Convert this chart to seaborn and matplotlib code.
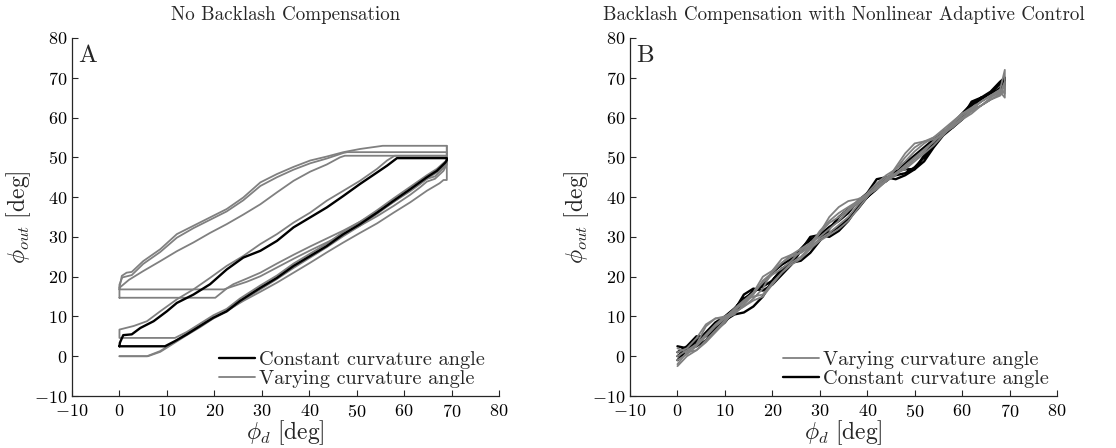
import numpy as np
import pandas as pd
import matplotlib
matplotlib.use("Agg")
import matplotlib.pyplot as plt
from matplotlib.lines import Line2D
import seaborn as sns

# ---------------- Panel A data (No Backlash Compensation) ----------------
const_x = [0, 9.6, 11.7, 14.2, 17, 19.8, 22.6, 25.4, 29.7, 33.2, 36.7, 40.2, 43.7, 47.2, 50.7,
           54.3, 57.8, 61.3, 64.8, 66.9, 68.7, 69, 69, 58.5, 56.4, 54.3, 50.7, 47.2, 43.7, 40.2,
           36.7, 33.2, 29.7, 26.1, 22.6, 19.1, 15.6, 12.1, 10, 7.2, 4.4, 2.6, 0.8, 0.1, 0]
const_y = [2.5, 2.5, 3.8, 5.5, 7.6, 9.7, 11.3, 13.9, 17.2, 19.7, 22.7, 25.2, 27.7, 30.7, 33.2,
           36.1, 39.1, 42, 45, 46.6, 48.7, 49.3, 49.8, 49.8, 47.9, 46.2, 43.3, 40.3, 37.4, 34.9,
           32.4, 29, 26.5, 24.8, 21.8, 18.1, 15.5, 13.4, 11.3, 8.8, 7.1, 5.5, 5.3, 3.4, 2.5]

# varying curvature angle: loop 1 (flat at 14.7, upper band middle line)
var1_x = [0, 20.2, 22.8, 24, 26.8, 29.7, 33.2, 36.7, 40.2, 43.7, 47.2, 50.7, 54.3, 57.8, 61.3,
          63.4, 64.8, 66.5, 68.3, 69, 69, 48, 47.2, 43.7, 40.2, 36.7, 33.2, 29.7, 26.1, 22.6,
          19.1, 15.6, 12.1, 8.6, 5, 2.6, 0.6, 0, 0]
var1_y = [14.7, 14.7, 17.2, 18.1, 19.5, 21, 23.3, 25.5, 27.6, 29.6, 31.6, 33.8, 36.2, 38.8, 41.5,
          43.3, 44.6, 45.2, 47.3, 48.8, 51.3, 51.3, 51.1, 49.7, 48.5, 46.9, 45, 42.8, 39.2, 36.4,
          34.3, 32.2, 29.8, 26.2, 23.2, 20.4, 19.8, 18, 14.7]
# loop 2 (flat at 16.8, top flat at 52.9, upper band top line)
var2_x = [0, 22, 24, 26.8, 29.7, 33.2, 36.7, 40.2, 43.7, 47.2, 50.7, 54.3, 57.8, 61.3, 63.4,
          64.8, 66.5, 68.3, 69, 69, 55.5, 54.3, 50.7, 47.2, 43.7, 40.2, 36.7, 33.2, 29.7, 26.1,
          22.6, 19.1, 15.6, 12.1, 8.6, 5, 2.6, 1.5, 0.5, 0, 0]
var2_y = [16.8, 16.8, 17.6, 18.7, 20.1, 22.3, 24.5, 26.6, 28.6, 30.6, 32.8, 35.2, 37.8, 40.6, 42.5,
          43.9, 44.6, 46.6, 48.2, 52.9, 52.9, 52.7, 52.1, 51.3, 50.2, 49.2, 47.6, 45.8, 43.7, 39.9,
          37, 34.9, 32.8, 30.7, 26.9, 23.9, 21.2, 21, 20.2, 17.2, 16.8]
# loop 3 (flat at 0, just below the black lower branch, upper band lower line)
var3_x = [0, 6, 8.6, 11.4, 14.2, 17, 19.8, 22.6, 25.4, 29.7, 33.2, 36.7, 40.2, 43.7, 47.2, 50.7,
          54.3, 57.8, 61.3, 64.8, 67, 68.7, 69, 69, 47.5, 46.5, 43.7, 40.2, 36.7, 33.2, 29.7, 26.1,
          22.6, 19.1, 15.6, 12.1, 8.6, 5, 2, 0]
var3_y = [0, 0, 1.1, 3.2, 5.3, 7.3, 9.5, 11.2, 13.6, 16.8, 19.4, 22.2, 24.8, 27.4, 30.2, 32.8,
          35.8, 38.8, 41.8, 44.6, 46.3, 48.2, 49, 50.4, 50.4, 50, 48.2, 46.4, 44.1, 41.2, 38.2, 35.6,
          33.2, 31, 28.6, 26.4, 23.9, 21.4, 19.2, 17.2]
# loop 4 (flat at 4.6, hugging the black curve on both branches)
var4_x = [69, 58, 56.4, 54.3, 50.7, 47.2, 43.7, 40.2, 36.7, 33.2, 29.7, 26.1, 22.6, 19.1, 15.6,
          12.1, 8.6, 5.8, 3, 0, 0, 11.7, 14.2, 17, 19.8, 22.6, 25.4, 29.7, 33.2, 36.7, 40.2, 43.7,
          47.2, 50.7, 54.3, 57.8, 61.3, 64.8, 66.9, 68.7]
var4_y = [50.4, 50.4, 49.2, 47.1, 44.1, 41.6, 39.1, 36.1, 33.6, 30.7, 28.2, 25.2, 22.7, 19.7, 16.8,
          14.3, 11.3, 8.8, 7.6, 6.7, 4.6, 4.6, 6.1, 8.2, 10.3, 11.9, 14.5, 17.8, 20.3, 23.3, 25.8, 28.3,
          31.3, 33.8, 36.7, 39.7, 42.6, 45.5, 47.1, 49]
# lowest branch (diverges below the bundle)
var5_x = [0, 5.8, 8.6, 11.4, 13.5, 16, 19, 22, 24, 26.1, 29.7, 33.2, 36.7, 40.2, 43.7, 47.2,
          50.7, 54.3, 57.8, 61.3, 64.8, 67.5, 68.3, 69, 69]
var5_y = [0, 0, 1.3, 3.4, 5.2, 7, 9, 11, 12.4, 13.9, 16.2, 18.5, 21, 23.5, 26.1, 28.6,
          31, 33.4, 36.1, 38.7, 41.6, 43.5, 44.3, 44.3, 52.9]

# ---------------- Panel B data (with Nonlinear Adaptive Control) ----------------
b_grid = [0, 2, 4, 6, 8, 10, 12, 14, 16, 18, 20, 22, 24, 26, 28, 30, 32, 34, 36, 38, 40, 42, 44,
          46, 48, 50, 52, 54, 56, 58, 60, 62, 64, 66, 68, 69]
b_const_up = [-1, 1.5, 4, 5.5, 7, 9, 11, 14, 16.5, 17.5, 19, 21.5, 24, 27, 29.5, 30, 31, 32.5,
              34.5, 37, 40, 43, 45, 45.5, 46, 47.5, 50, 53, 56, 58.5, 61, 63.5, 64.5, 66, 68.5, 70]
b_const_down = [2.5, 2, 2.5, 4, 6.5, 9, 10.5, 11, 12.5, 15, 19, 22, 23.5, 24, 26, 29, 32, 35,
                37, 38.5, 40, 42, 44.5, 46.5, 47, 47, 49, 52.5, 55.5, 57.5, 59.5, 62, 64.5, 66, 67, 68]
b_const_mid = [0, 2, 3.5, 6, 8.5, 10, 12, 14.5, 16, 18, 21, 23, 24.5, 26.5, 29, 30.5, 32.5, 34,
               36, 39, 41, 43, 44, 46, 48.5, 50.5, 52.5, 54.5, 56, 58, 60.5, 63, 65, 66.5, 69, 70]
b_const_extra = [1, 2.5, 5, 5, 6.5, 8.5, 11.5, 15.5, 17, 16.5, 18, 20.5, 23, 26.5, 30, 30.5, 30,
                 31.5, 34, 37.5, 41, 44.5, 45, 44.5, 45.5, 47, 50.5, 54, 56.5, 57.5, 60, 64, 65,
                 65.5, 67.5, 69.5]
b_var_up1 = [-2, 1, 3, 7.5, 9.5, 9.5, 10.5, 13, 15.5, 19, 21, 23.5, 25, 26, 28, 31.5, 34, 36,
             37.5, 39, 40.5, 42.5, 44.5, 47, 50, 52.5, 54, 55, 56.5, 58.5, 60.5, 62, 64, 65.5, 67, 72]
b_var_down1 = [2, 1, 1.5, 4, 6.5, 9, 11, 12.5, 14, 15, 18, 21, 23.5, 25, 27.5, 29.5, 31, 33,
               35, 38, 40.5, 42.5, 44, 45.5, 47.5, 49.5, 51.5, 54, 56, 58, 59.5, 61, 63, 65, 66.5, 65]
b_var_up2 = [0, 1.5, 3, 5.5, 8, 10, 11.5, 13.5, 16, 18.5, 20.5, 22, 24, 26.5, 28.5, 30, 32, 34,
             36.5, 38.5, 40.5, 42, 44, 46, 48, 50, 52, 54, 56, 57.5, 59.5, 62, 64, 65.5, 66, 68]
b_var_down2 = [-1, 0.5, 2.5, 5, 7.5, 9.5, 12, 14, 16, 20, 21.5, 23.5, 25.5, 27, 28.5, 31, 33.5,
               35, 37, 39, 41, 43.5, 45.5, 47, 49, 51.5, 53.5, 55, 57, 59, 61, 62.5, 64, 65.5, 67, 66]
b_var_up3 = [1, 2, 4.5, 8, 9.5, 10, 11, 12.5, 14.5, 17, 21.5, 24.5, 25.5, 26, 27.5, 31, 35, 37.5,
             39, 39.5, 40.5, 42, 44, 47.5, 51, 53.5, 54, 54.5, 56, 58.5, 61, 62, 63, 64.5, 66, 69]
b_var_down3 = [-2.5, 0, 1.5, 3.5, 6, 8.5, 11.5, 14, 15, 15.5, 18.5, 21, 23, 24.5, 27, 29, 30.5,
               32, 34, 37, 40, 43, 45, 46, 47, 49, 51, 53, 55.5, 58, 60, 61.5, 63, 64.5, 65.5, 67]

labels = ["Constant curvature angle", "Varying curvature angle"]
titles = ["No Backlash Compensation", "Backlash Compensation with Nonlinear Adaptive Control"]
panel_tags = ["A", "B"]
ticks = [-10, 0, 10, 20, 30, 40, 50, 60, 70, 80]

# ---------------- styling ----------------
sns.set_theme(style="ticks")
plt.rcParams["font.family"] = ["cmr10", "DejaVu Serif"]
plt.rcParams["mathtext.fontset"] = "cm"
plt.rcParams["axes.formatter.use_mathtext"] = True
plt.rcParams["axes.unicode_minus"] = True

GRAY = "#808080"
BLACK = "#000000"
LW_G = 1.3
LW_K = 1.7
AX_COL = "#262626"

fig = plt.figure(figsize=(11.16, 4.48), dpi=100)
axA = fig.add_axes([72 / 1116, 52 / 448, 427 / 1116, 358 / 448])
axB = fig.add_axes([630 / 1116, 52 / 448, 427 / 1116, 358 / 448])


def draw(ax, xs, ys, color, lw):
    sns.lineplot(x=xs, y=ys, sort=False, estimator=None, color=color, lw=lw, ax=ax, legend=False)


# Panel A
for xs, ys in [(var1_x, var1_y), (var2_x, var2_y), (var3_x, var3_y), (var4_x, var4_y), (var5_x, var5_y)]:
    draw(axA, xs, ys, GRAY, LW_G)
draw(axA, const_x, const_y, BLACK, LW_K)

# Panel B
loop_x = b_grid + b_grid[::-1]
draw(axB, loop_x, b_const_up + b_const_down[::-1], BLACK, LW_K)
draw(axB, loop_x, b_const_mid + b_const_extra[::-1], BLACK, LW_K)
draw(axB, loop_x, b_var_up1 + b_var_down1[::-1], GRAY, LW_G)
draw(axB, loop_x, b_var_up2 + b_var_down2[::-1], GRAY, LW_G)
draw(axB, loop_x, b_var_up3 + b_var_down3[::-1], GRAY, LW_G)

for ax, title, tag in [(axA, titles[0], panel_tags[0]), (axB, titles[1], panel_tags[1])]:
    ax.set_xlim(-10, 80)
    ax.set_ylim(-10, 80)
    ax.set_xticks(ticks)
    ax.set_yticks(ticks)
    sns.despine(ax=ax)
    for s in ["left", "bottom"]:
        ax.spines[s].set_color(AX_COL)
        ax.spines[s].set_linewidth(0.9)
    ax.tick_params(direction="in", length=4, width=0.8, color=AX_COL, labelsize=13,
                   pad=3, labelcolor="black")
    ax.tick_params(axis="x", pad=5)
    ax.set_title(title, fontsize=13.7, pad=13)
    ax.set_xlabel(r"$\phi_d\ [\mathrm{deg}]$", fontsize=17, labelpad=-1)
    ax.set_ylabel(r"$\phi_{out}\ [\mathrm{deg}]$", fontsize=17, labelpad=1)
    ax.text(-8.6, 75.5, tag, fontsize=18, ha="left", va="center")
    ax.grid(False)

hA = [Line2D([], [], color=BLACK, lw=LW_K), Line2D([], [], color=GRAY, lw=LW_G)]
axA.legend(hA, labels, loc="lower right", bbox_to_anchor=(0.985, 0.0), frameon=False,
           fontsize=14.6, handlelength=1.75, handletextpad=0.2, labelspacing=0.05, borderaxespad=0)
hB = [Line2D([], [], color=GRAY, lw=LW_G), Line2D([], [], color=BLACK, lw=LW_K)]
axB.legend(hB, [labels[1], labels[0]], loc="lower right", bbox_to_anchor=(1.0, 0.0), frameon=False,
           fontsize=14.6, handlelength=1.75, handletextpad=0.2, labelspacing=0.05, borderaxespad=0)

fig.savefig("out.png", dpi=100)
